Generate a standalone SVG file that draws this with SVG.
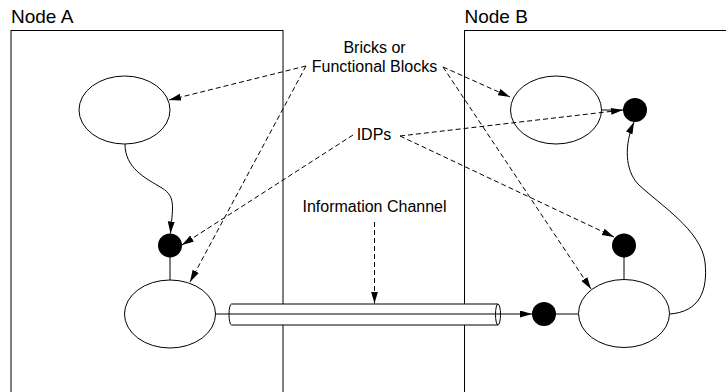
<svg xmlns="http://www.w3.org/2000/svg" width="726" height="392" viewBox="0 0 726 392">
<style>
.frame{fill:none;stroke:#000;stroke-width:1}
.blk{fill:#fff;stroke:#000;stroke-width:1}
.idp{fill:#000;stroke:none}
.ln{fill:none;stroke:#000;stroke-width:1}
.dash{fill:none;stroke:#000;stroke-width:1;stroke-dasharray:5,3}
.title{font-family:"Liberation Sans",Arial,sans-serif;font-size:19px;fill:#000}
.lbl{font-family:"Liberation Sans",Arial,sans-serif;font-size:16px;fill:#000;text-anchor:middle}
</style>
<defs>
<marker id="ah" markerUnits="userSpaceOnUse" markerWidth="12" markerHeight="8" refX="12" refY="3.5" orient="auto">
<path d="M0,0 L12,3.5 L0,7 z" fill="#000"/>
</marker>
</defs>
<rect width="726" height="392" fill="#fff"/>
<g id="nodeA">
<rect class="frame" x="11" y="30.5" width="272" height="400"/>
<text class="title" x="11" y="23">Node A</text>
</g>
<g id="nodeB">
<rect class="frame" x="464.5" y="30.5" width="300" height="400"/>
<text class="title" x="464.5" y="23">Node B</text>
</g>
<g id="channel">
<path class="blk" d="M231.5,304 L498,304 A2.5,10.5 0 0 1 498,325 L231.5,325 A2.5,10.5 0 0 1 231.5,304 Z"/>
<path class="ln" d="M498,304 A2.5,10.5 0 0 0 498,325"/>
</g>
<g id="connectors">
<path class="ln" d="M125,144 C125,168 145,178 162,188 C177,197 172,210 170.5,233.5" marker-end="url(#ah)"/>
<line class="ln" x1="170" y1="257" x2="170" y2="280"/>
<line class="ln" x1="215" y1="314" x2="532" y2="314" marker-end="url(#ah)"/>
<line class="ln" x1="556" y1="314" x2="578" y2="314"/>
<line class="ln" x1="624" y1="257" x2="624" y2="279.5"/>
<line class="ln" x1="601.5" y1="110" x2="623" y2="110"/>
<path class="ln" d="M669.5,314 C700,312 708,290 705,262 C701,230 660,205 638,184 C625,170 624,145 634,122" marker-end="url(#ah)"/>
</g>
<g id="brickA1"><ellipse class="blk" cx="124.5" cy="110" rx="45.5" ry="34"/></g>
<g id="brickA2"><ellipse class="blk" cx="170" cy="314" rx="45.5" ry="34"/></g>
<g id="brickB1"><ellipse class="blk" cx="556" cy="110" rx="45.5" ry="34"/></g>
<g id="brickB2"><ellipse class="blk" cx="624" cy="313.5" rx="45.5" ry="34"/></g>
<g id="idpA"><circle class="idp" cx="170" cy="245.5" r="12"/></g>
<g id="idpB1"><circle class="idp" cx="544" cy="314" r="12"/></g>
<g id="idpB2"><circle class="idp" cx="624" cy="245.5" r="12"/></g>
<g id="idpB3"><circle class="idp" cx="635" cy="110" r="12"/></g>
<g id="labels">
<text class="lbl" x="374.5" y="53">Bricks or</text>
<text class="lbl" x="374.5" y="72">Functional Blocks</text>
<text class="lbl" x="374" y="140">IDPs</text>
<text class="lbl" x="374.5" y="212">Information Channel</text>
</g>
<g id="annotations">
<path class="dash" d="M306,66 L169,100" marker-end="url(#ah)"/>
<path class="dash" d="M306,66 L190,282" marker-end="url(#ah)"/>
<path class="dash" d="M443,67 L510,97" marker-end="url(#ah)"/>
<path class="dash" d="M443,67 L591,289" marker-end="url(#ah)"/>
<path class="dash" d="M353,135 L182,245" marker-end="url(#ah)"/>
<path class="dash" d="M400,136 L623,110" marker-end="url(#ah)"/>
<path class="dash" d="M400,136 L614,237" marker-end="url(#ah)"/>
<path class="dash" d="M374.5,222 L374.5,303.5" marker-end="url(#ah)"/>
</g>
</svg>
